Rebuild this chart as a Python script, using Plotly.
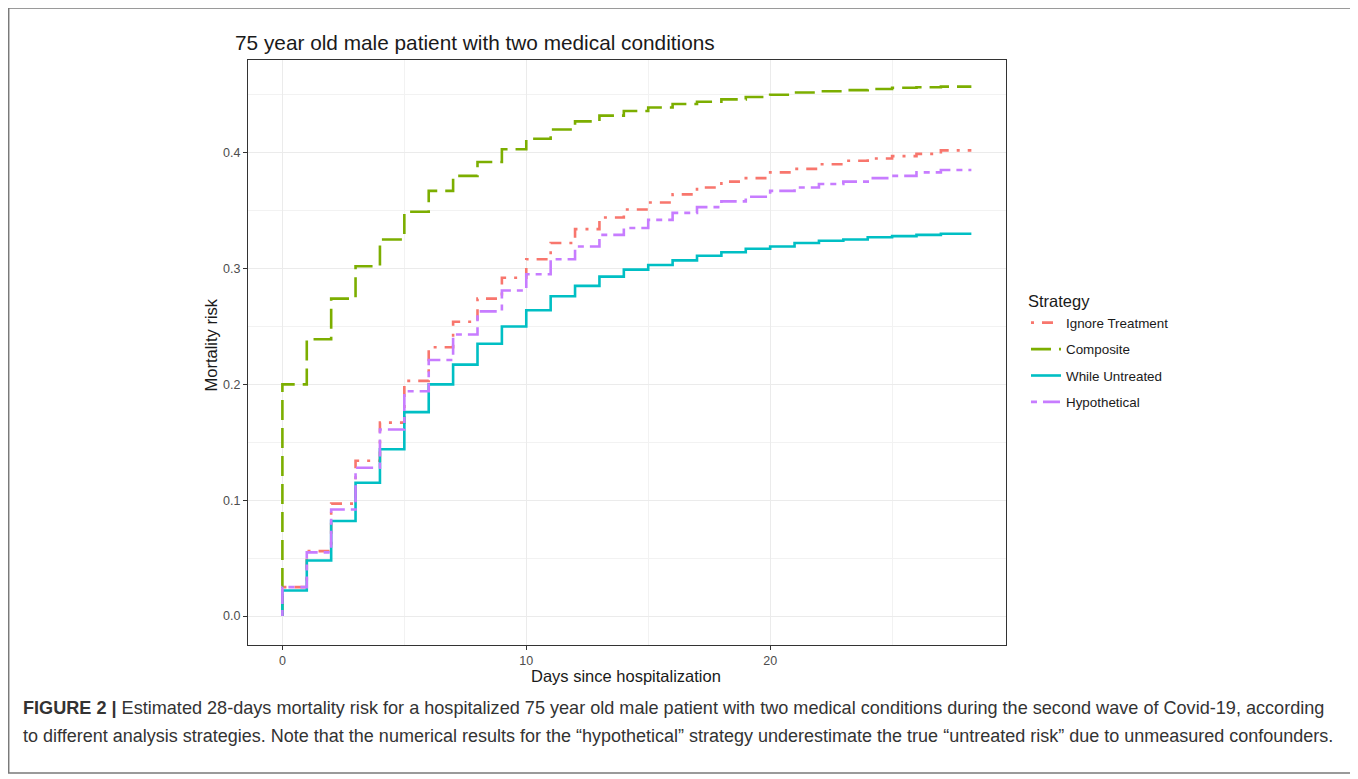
import plotly.graph_objects as go

# ---------------- data ----------------
days = list(range(0, 28))  # step times (days 0..27)
end_day = 28.25

ignore_treatment = [0.025, 0.056, 0.097, 0.134, 0.167, 0.203, 0.232, 0.254, 0.274, 0.292,
                    0.308, 0.322, 0.334, 0.344, 0.351, 0.357, 0.364, 0.370, 0.375, 0.378,
                    0.383, 0.386, 0.390, 0.393, 0.395, 0.397, 0.399, 0.402]
composite = [0.200, 0.239, 0.274, 0.302, 0.325, 0.349, 0.367, 0.380, 0.392, 0.403,
             0.412, 0.420, 0.427, 0.432, 0.436, 0.439, 0.442, 0.444, 0.446, 0.448,
             0.450, 0.452, 0.453, 0.454, 0.455, 0.456, 0.4565, 0.457]
while_untreated = [0.022, 0.048, 0.082, 0.115, 0.144, 0.176, 0.200, 0.217, 0.235, 0.250,
                   0.264, 0.276, 0.285, 0.293, 0.299, 0.303, 0.307, 0.311, 0.314, 0.317,
                   0.319, 0.322, 0.324, 0.325, 0.327, 0.328, 0.329, 0.330]
hypothetical = [0.025, 0.055, 0.092, 0.128, 0.161, 0.194, 0.221, 0.243, 0.263, 0.281,
                0.295, 0.308, 0.319, 0.329, 0.335, 0.342, 0.348, 0.353, 0.358, 0.362,
                0.367, 0.370, 0.373, 0.375, 0.378, 0.380, 0.383, 0.385]

series_names = ["Ignore Treatment", "Composite", "While Untreated", "Hypothetical"]
series_values = [ignore_treatment, composite, while_untreated, hypothetical]
colors = ["#F8766D", "#7CAE00", "#00BFC4", "#C77CFF"]
dashes = ["3px,8px,11px,8px", "20px,8px", "solid", "6px,6px,17px,6px"]

title_text = "75 year old male patient with two medical conditions"
x_title = "Days since hospitalization"
y_title = "Mortality risk"
legend_title = "Strategy"
caption_1 = ("<b>FIGURE 2 |</b> Estimated 28-days mortality risk for a hospitalized 75 year old male "
             "patient with two medical conditions during the second wave of Covid-19, according")
caption_2 = ("to different analysis strategies. Note that the numerical results for the \u201chypothetical\u201d "
             "strategy underestimate the true \u201cuntreated risk\u201d due to unmeasured confounders.")

# ---------------- layout geometry (reference pixel coords) ----------------
OFF = 8  # page body margin
WIDTH, HEIGHT = 1358 - OFF, 779 - OFF
L, R, T, B = 247.5, 1006, 60, 645
PW, PH = R - L, B - T


def px(xp):
    return (xp - L) / PW


def py(yp):
    return (B - yp) / PH


fig = go.Figure()
for i, (name, vals) in enumerate(zip(series_names, series_values)):
    xs = [0] + days + [end_day]
    ys = [0] + vals + [vals[-1]]
    fig.add_trace(go.Scatter(
        x=xs, y=ys, mode="lines", name=name, line_shape="hv",
        line=dict(color=colors[i], width=2.6, dash=dashes[i]),
        legendgroup=name,
    ))

axis_common = dict(
    showline=True, linecolor="#333333", linewidth=1, mirror=True,
    ticks="outside", ticklen=4, tickcolor="#333333", tickwidth=1,
    tickfont=dict(family="Liberation Sans, Arial", size=12.5, color="#4D4D4D"),
    showgrid=True, gridcolor="#EBEBEB", gridwidth=1.1, zeroline=False,
)

fig.update_layout(
    width=WIDTH, height=HEIGHT,
    margin=dict(l=L - OFF, r=1358 - R, t=T - OFF, b=779 - B),
    paper_bgcolor="white", plot_bgcolor="white",
    font=dict(family="Liberation Sans, Arial", color="#1a1a1a"),
    xaxis=dict(range=[-1.41, 29.67], tickvals=[0, 10, 20],
               minor=dict(showgrid=True, gridcolor="#F2F2F2", gridwidth=0.6, tickvals=[5, 15, 25], ticks=""),
               **axis_common),
    yaxis=dict(range=[-0.025, 0.480], tickvals=[0.0, 0.1, 0.2, 0.3, 0.4], tickformat=".1f",
               minor=dict(showgrid=True, gridcolor="#F2F2F2", gridwidth=0.6,
                          tickvals=[0.05, 0.15, 0.25, 0.35, 0.45], ticks=""),
               **axis_common),
    showlegend=True,
    legend=dict(
        x=px(1026), y=py(286), xanchor="left", yanchor="top",
        title=dict(text=legend_title, font=dict(size=16.5, color="#1a1a1a")),
        font=dict(size=13.4, color="#1a1a1a"),
        tracegroupgap=6, bgcolor="rgba(0,0,0,0)",
    ),
)

annotations = [
    dict(text=title_text, x=px(232), y=py(42), xanchor="left", yanchor="middle",
         font=dict(size=20.8, color="#1a1a1a")),
    dict(text=x_title, x=px(626), y=py(676), xanchor="center", yanchor="middle",
         font=dict(size=16.5, color="#1a1a1a")),
    dict(text=y_title, x=px(210), y=py(345), xanchor="center", yanchor="middle", textangle=-90,
         font=dict(size=16.5, color="#1a1a1a")),
    dict(text=caption_1, x=px(20), y=py(708), xanchor="left", yanchor="middle",
         font=dict(size=18.1, color="#333333")),
    dict(text=caption_2, x=px(20), y=py(736), xanchor="left", yanchor="middle",
         font=dict(size=18.0, color="#333333")),
]
for a in annotations:
    a.update(xref="paper", yref="paper", showarrow=False)
fig.update_layout(annotations=annotations)

fig.add_shape(type="rect", xref="paper", yref="paper",
              x0=px(8), x1=px(1355), y0=py(773), y1=py(8),
              line=dict(color="#7a7a7a", width=1.6), layer="below")

fig.write_html("out.html")
